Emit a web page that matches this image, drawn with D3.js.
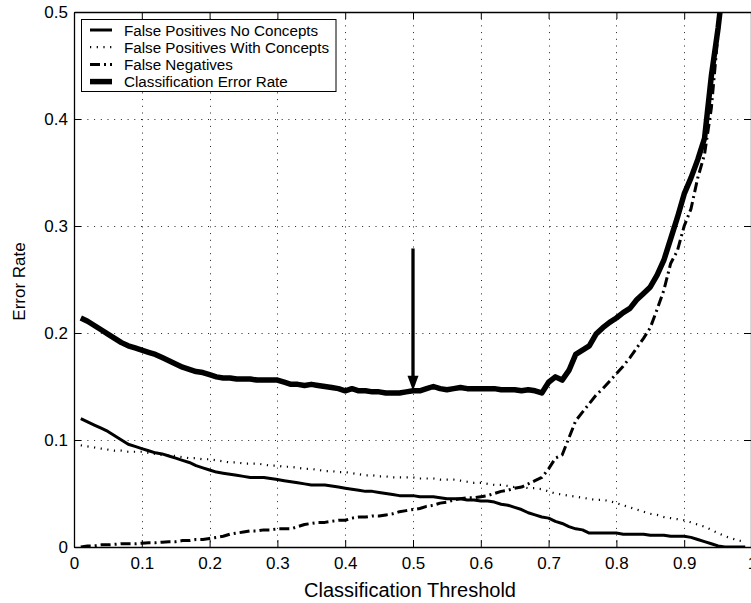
<!DOCTYPE html>
<html><head><meta charset="utf-8">
<script src="https://cdn.jsdelivr.net/npm/d3@7"></script>
<style>
html,body{margin:0;padding:0;background:#fff;overflow:hidden}
svg{display:block;font-family:"Liberation Sans",Arial,Helvetica,sans-serif}
</style></head>
<body><svg id="chart" width="751" height="603"></svg>
<script>
const thresholds = [0.01,0.02,0.03,0.04,0.05,0.06,0.07,0.08,0.09,0.10,
0.11,0.12,0.13,0.14,0.15,0.16,0.17,0.18,0.19,0.20,
0.21,0.22,0.23,0.24,0.25,0.26,0.27,0.28,0.29,0.30,
0.31,0.32,0.33,0.34,0.35,0.36,0.37,0.38,0.39,0.40,
0.41,0.42,0.43,0.44,0.45,0.46,0.47,0.48,0.49,0.50,
0.51,0.52,0.53,0.54,0.55,0.56,0.57,0.58,0.59,0.60,
0.61,0.62,0.63,0.64,0.65,0.66,0.67,0.68,0.69,0.70,
0.71,0.72,0.73,0.74,0.75,0.76,0.77,0.78,0.79,0.80,
0.81,0.82,0.83,0.84,0.85,0.86,0.87,0.88,0.89,0.90,
0.91,0.92,0.93,0.94,0.95,0.96,0.97,0.98,0.99];

const fpNoConcepts = [.120,.117,.114,.111,.108,.104,.100,.096,.094,.092,
.090,.088,.087,.085,.083,.081,.079,.076,.074,.072,
.070,.069,.068,.067,.066,.065,.065,.065,.064,.063,
.062,.061,.060,.059,.058,.058,.058,.057,.056,.055,
.054,.053,.052,.052,.051,.050,.049,.048,.048,.048,
.047,.047,.047,.046,.045,.045,.045,.044,.044,.043,
.043,.042,.040,.039,.037,.035,.032,.030,.028,.027,
.024,.022,.019,.017,.016,.013,.013,.013,.013,.013,
.012,.012,.012,.012,.011,.011,.011,.010,.010,.010,
.009,.007,.005,.003,.001,.000,.000,.000,.000];

const fpWithConcepts = [.095,.094,.093,.092,.091,.090,.090,.089,.089,.089,
.088,.087,.086,.086,.085,.084,.083,.083,.082,.082,
.081,.080,.079,.079,.078,.078,.078,.077,.076,.076,
.075,.075,.074,.073,.073,.072,.071,.071,.070,.070,
.069,.068,.067,.067,.066,.066,.065,.065,.065,.065,
.064,.064,.064,.063,.063,.063,.062,.061,.060,.060,
.059,.058,.058,.057,.056,.056,.055,.055,.054,.052,
.050,.049,.048,.047,.046,.045,.044,.044,.043,.041,
.039,.037,.035,.033,.031,.030,.028,.027,.026,.025,
.023,.021,.019,.016,.013,.010,.008,.006,.005];

const falseNegatives = [.000,.001,.001,.002,.002,.0025,.003,.003,.003,.0035,
.004,.004,.0045,.005,.005,.006,.006,.007,.007,.008,
.009,.010,.012,.013,.014,.015,.015,.016,.016,.017,
.017,.017,.019,.021,.022,.023,.023,.024,.025,.025,
.027,.028,.028,.029,.029,.030,.031,.033,.034,.035,
.036,.038,.039,.041,.042,.044,.045,.046,.046,.047,
.048,.050,.052,.053,.055,.056,.059,.062,.065,.073,
.083,.086,.102,.118,.126,.134,.142,.148,.155,.162,
.169,.177,.186,.195,.205,.222,.240,.265,.277,.300,
.316,.345,.367,.410,.480,.540,.600,.660,.720];

const classificationError = [.214,.211,.207,.203,.199,.195,.191,.188,.186,.184,
.182,.180,.177,.174,.171,.168,.166,.164,.163,.161,
.159,.158,.158,.157,.157,.157,.156,.156,.156,.156,
.154,.152,.152,.151,.152,.151,.150,.149,.148,.146,
.148,.146,.146,.145,.145,.144,.144,.144,.145,.146,
.146,.148,.150,.148,.147,.148,.149,.148,.148,.148,
.148,.148,.147,.147,.147,.146,.147,.146,.144,.154,
.159,.156,.165,.180,.184,.188,.199,.205,.210,.214,
.219,.223,.231,.237,.243,.254,.268,.288,.308,.330,
.345,.362,.382,.440,.485,.540,.600,.660,.720];

const xTicks = [0,0.1,0.2,0.3,0.4,0.5,0.6,0.7,0.8,0.9,1];
const yTicks = [0,0.1,0.2,0.3,0.4,0.5];
const seriesNames = ["False Positives No Concepts","False Positives With Concepts","False Negatives","Classification Error Rate"];
const arrowX = 0.5, arrowFrom = 0.279, arrowTo = 0.146;

const series = [
  {name: seriesNames[0], values: fpNoConcepts, width: 3, dash: null},
  {name: seriesNames[1], values: fpWithConcepts, width: 2.2, dash: "1.2,5.5"},
  {name: seriesNames[2], values: falseNegatives, width: 3, dash: "10,4,2,4"},
  {name: seriesNames[3], values: classificationError, width: 5.5, dash: null}
];

const L = 74, T = 12, R = 752, B = 547;
const svg = d3.select("#chart");
const x = d3.scaleLinear().domain([0,1]).range([L,R]);
const y = d3.scaleLinear().domain([0,0.5]).range([B,T]);

// grid
const grid = svg.append("g").attr("stroke","#222").attr("stroke-width",1).attr("stroke-dasharray","1,5.7");
grid.selectAll(".gx").data(xTicks.slice(1,-1)).join("line")
  .attr("x1",d=>Math.round(x(d))+0.5).attr("x2",d=>Math.round(x(d))+0.5).attr("y1",T).attr("y2",B);
grid.selectAll(".gy").data(yTicks.slice(1,-1)).join("line")
  .attr("y1",d=>Math.round(y(d))+0.5).attr("y2",d=>Math.round(y(d))+0.5).attr("x1",L).attr("x2",R);

// axes
const ax = svg.append("g").attr("transform",`translate(0,${B})`)
  .call(d3.axisBottom(x).tickValues(xTicks).tickFormat(d3.format("~g")).tickSizeInner(-7).tickSizeOuter(0).tickPadding(10));
const axTop = svg.append("g").attr("transform",`translate(0,${T})`)
  .call(d3.axisTop(x).tickValues(xTicks).tickFormat("").tickSizeInner(-7).tickSizeOuter(0));
const ay = svg.append("g").attr("transform",`translate(${L},0)`)
  .call(d3.axisLeft(y).tickValues(yTicks).tickFormat(d3.format("~g")).tickSizeInner(-7).tickSizeOuter(0).tickPadding(6));
const ayR = svg.append("g").attr("transform",`translate(${R-1},0)`)
  .call(d3.axisRight(y).tickValues(yTicks).tickFormat("").tickSizeInner(-7).tickSizeOuter(0));
[ax,axTop,ay,ayR].forEach(g=>{
  g.selectAll("path").attr("stroke","#000").attr("stroke-width",1.3);
  g.selectAll("line").attr("stroke","#000").attr("stroke-width",1);
  g.selectAll("text").attr("fill","#000").attr("font-size",17).attr("font-family","Liberation Sans, Arial, sans-serif");
});

// clip
svg.append("clipPath").attr("id","clip").append("rect").attr("x",L).attr("y",T).attr("width",R-L).attr("height",B-T);
const plot = svg.append("g").attr("clip-path","url(#clip)");
const line = d3.line().x((d,i)=>x(thresholds[i])).y(d=>y(d));
series.forEach(s=>{
  plot.append("path").attr("d",line(s.values)).attr("fill","none").attr("stroke","#000")
    .attr("stroke-width",s.width).attr("stroke-dasharray",s.dash).attr("stroke-linejoin","round");
});

// arrow
const ax0 = x(arrowX);
plot.append("line").attr("x1",ax0).attr("x2",ax0).attr("y1",y(arrowFrom)).attr("y2",y(arrowTo)-12)
  .attr("stroke","#000").attr("stroke-width",3.3);
plot.append("path").attr("d",`M${ax0-5.5},${y(arrowTo)-15} L${ax0+5.5},${y(arrowTo)-15} L${ax0},${y(arrowTo)} Z`).attr("fill","#000");

// labels
svg.append("text").attr("x",(L+R)/2 - 3).attr("y",597).attr("text-anchor","middle")
  .attr("font-size",20).text("Classification Threshold");
svg.append("text").attr("transform",`translate(25,${(T+B)/2 + 2}) rotate(-90)`).attr("text-anchor","middle")
  .attr("font-size",17).text("Error Rate");

// legend
const lg = svg.append("g");
lg.append("rect").attr("x",81.5).attr("y",19.5).attr("width",254.5).attr("height",72).attr("fill","#fff").attr("stroke","#000").attr("stroke-width",1);
series.forEach((s,i)=>{
  const yy = 30 + i*17.2;
  lg.append("line").attr("x1",90).attr("x2",112).attr("y1",yy).attr("y2",yy).attr("stroke","#000")
    .attr("stroke-width",s.width).attr("stroke-dasharray",s.dash);
  lg.append("text").attr("x",124).attr("y",yy+5.5).attr("font-size",15.2).text(s.name);
});
</script></body></html>
